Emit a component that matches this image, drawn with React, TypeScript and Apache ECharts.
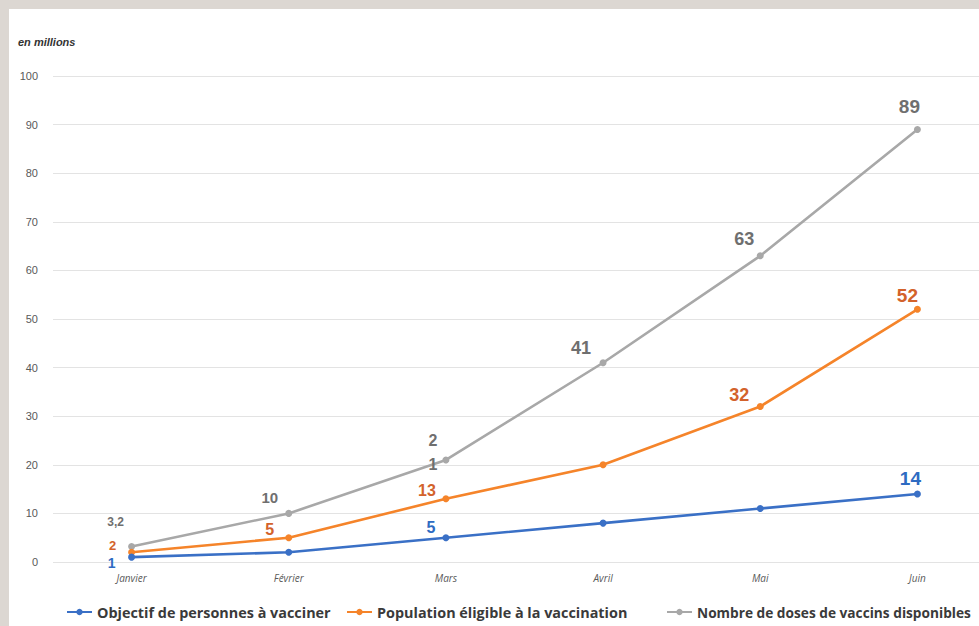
import React, { useEffect, useRef } from "react";
import * as echarts from "echarts";

const categories = ["Janvier", "Février", "Mars", "Avril", "Mai", "Juin"];
const objectif = [1, 2, 5, 8, 11, 14];
const population = [2, 5, 13, 20, 32, 52];
const doses = [3.2, 10, 21, 41, 63, 89];
const yTicks = { min: 0, max: 100, interval: 10 };

const seriesNames = [
  "Objectif de personnes à vacciner",
  "Population éligible à la vaccination",
  "Nombre de doses de vaccins disponibles",
];

// label styling per point: null = no label
type LS = { dx: number; dy: number; size: number; text?: string } | null;
const objectifLabels: LS[] = [
  { dx: -20, dy: 6, size: 14 },
  null,
  { dx: -15, dy: -10, size: 16 },
  null,
  null,
  { dx: -7, dy: -15, size: 19 },
];
const populationLabels: LS[] = [
  { dx: -19, dy: -7, size: 13 },
  { dx: -19, dy: -8, size: 16 },
  { dx: -19, dy: -8, size: 16 },
  null,
  { dx: -21, dy: -11, size: 18 },
  { dx: -10, dy: -14, size: 19 },
];
const dosesLabels: LS[] = [
  { dx: -16, dy: -24, size: 12 },
  { dx: -19, dy: -16, size: 15 },
  { dx: -13, dy: -7, size: 16, text: "2\n1" },
  { dx: -22, dy: -15, size: 18 },
  { dx: -16, dy: -17, size: 18 },
  { dx: -8, dy: -23, size: 19 },
];

const SYM = 7;
const fmt = (v: number) => String(v).replace(".", ",");

function buildData(values: number[], labels: LS[], color: string) {
  return values.map((v, i) => {
    const l = labels[i];
    if (!l) return { value: v, label: { show: false } };
    return {
      value: v,
      label: {
        show: true,
        position: [l.dx + SYM / 2, l.dy + SYM / 2],
        align: "center",
        verticalAlign: "middle",
        formatter: l.text ?? fmt(v),
        fontSize: l.size,
        fontWeight: "bold",
        fontFamily: "Liberation Sans, Arial, sans-serif",
        color,
        lineHeight: 24,
      },
    };
  });
}

export default function App() {
  const ref = useRef<HTMLDivElement>(null);
  useEffect(() => {
    if (!ref.current) return;
    const chart = echarts.init(ref.current, null, { renderer: "svg" });
    const blue = "#3a70c6";
    const orange = "#f5842a";
    const gray = "#a8a8a8";
    const mkLegend = (name: string, left: number, size: number) => ({
      show: true,
      data: [name],
      left,
      top: 596,
      itemWidth: 25,
      itemHeight: 8,
      itemGap: 0,
      padding: 0,
      textStyle: {
        fontSize: size,
        fontWeight: "bold",
        fontFamily: "Open Sans, sans-serif",
        color: "#3a3a3a",
      },
    });
    const lineSeries = (name: string, vals: number[], labels: LS[], color: string, labelColor: string) => ({
      name,
      type: "line",
      data: buildData(vals, labels, labelColor),
      symbol: "circle",
      symbolSize: SYM,
      lineStyle: { color, width: 2.6 },
      itemStyle: { color },
      labelLayout: { hideOverlap: false },
    });
    chart.setOption({
      animation: false,
      backgroundColor: "#ffffff",
      grid: { left: 44, top: 67, width: 943, height: 486, containLabel: false },
      legend: [
        mkLegend(seriesNames[0], 57, 14.4),
        mkLegend(seriesNames[1], 337, 14.4),
        mkLegend(seriesNames[2], 657, 13.7),
      ],
      graphic: [
        {
          type: "text",
          left: 9,
          top: 27,
          style: {
            text: "en millions",
            fontSize: 11,
            fontStyle: "italic",
            fontWeight: "bold",
            fontFamily: "Liberation Sans, Arial, sans-serif",
            fill: "#333333",
          },
        },
      ],
      xAxis: {
        type: "category",
        data: categories,
        boundaryGap: true,
        axisLine: { show: false },
        axisTick: { show: false },
        axisLabel: {
          fontSize: 10,
          fontStyle: "italic",
          color: "#5a5a5a",
          margin: 11,
          fontFamily: "Open Sans, sans-serif",
        },
      },
      yAxis: {
        type: "value",
        min: yTicks.min,
        max: yTicks.max,
        interval: yTicks.interval,
        axisLine: { show: false },
        axisTick: { show: false },
        axisLabel: {
          fontSize: 11,
          color: "#595959",
          margin: 15,
          fontFamily: "Liberation Sans, Arial, sans-serif",
        },
        splitLine: { lineStyle: { color: "#e3e3e3", width: 1 } },
      },
      series: [
        lineSeries(seriesNames[2], doses, dosesLabels, gray, "#6f6f6f"),
        lineSeries(seriesNames[1], population, populationLabels, orange, "#d3622b"),
        lineSeries(seriesNames[0], objectif, objectifLabels, blue, "#2e6bc2"),
      ],
    });
    return () => chart.dispose();
  }, []);
  return (
    <div
      style={{
        position: "fixed",
        left: 0,
        top: 0,
        width: 979,
        height: 626,
        background: "#dcd7d2",
        overflow: "hidden",
      }}
    >
      <div
        ref={ref}
        style={{ position: "absolute", left: 9, top: 9, width: 1000, height: 617 }}
      />
    </div>
  );
}
